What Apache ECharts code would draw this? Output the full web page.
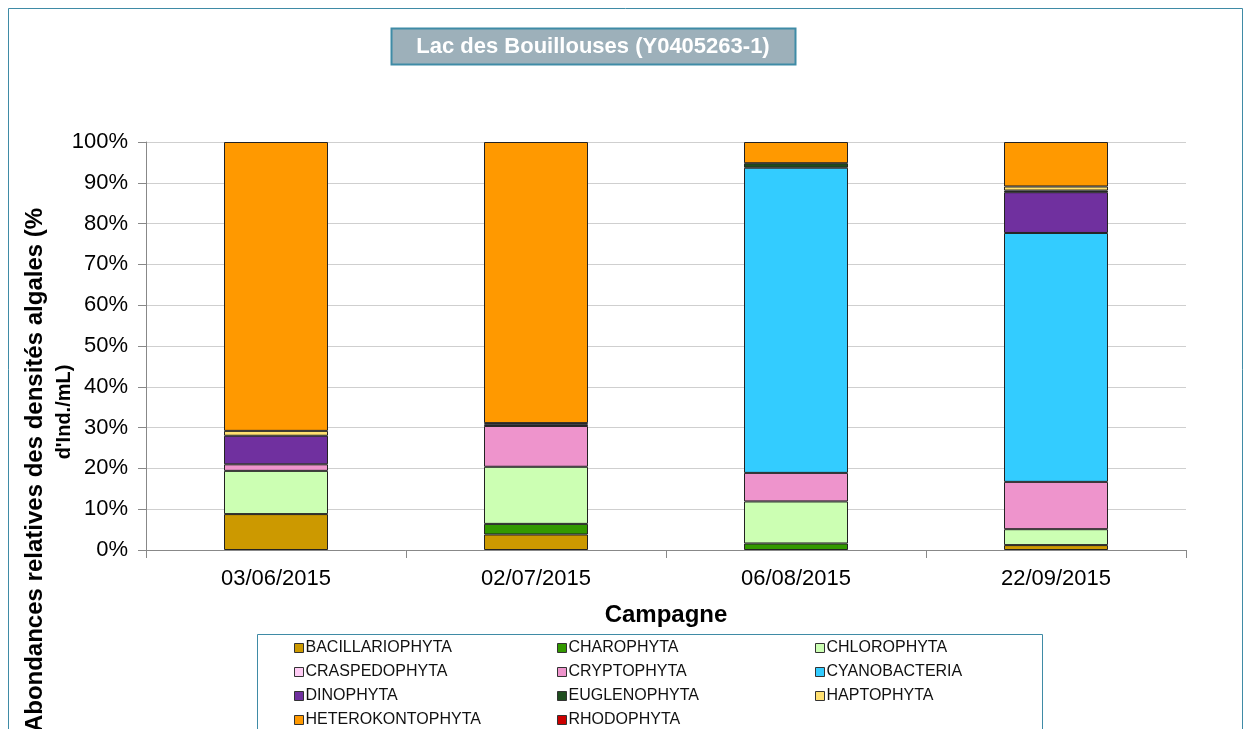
<!DOCTYPE html>
<html>
<head>
<meta charset="UTF-8">
<title>Lac des Bouillouses</title>
<script src="https://cdn.jsdelivr.net/npm/echarts@6/dist/echarts.min.js"></script>
<style>
  html, body { margin: 0; padding: 0; background: #fff; }
  #main { width: 1251px; height: 729px; }
</style>
</head>
<body>
<div id="main"></div>
<script>
// campagnes
var dates = ['03/06/2015', '02/07/2015', '06/08/2015', '22/09/2015'];

// abondances relatives (%) par embranchement, une valeur par campagne
var bacillariophyta  = [8.8, 3.8, 0, 1.2];
var charophyta       = [0, 2.6, 1.6, 0];
var chlorophyta      = [10.6, 14.0, 10.3, 3.9];
var craspedophyta    = [0, 0, 0, 0];
var cryptophyta      = [1.6, 10.0, 7.0, 11.6];
var cyanobacteria    = [0, 0, 74.8, 61.0];
var dinophyta        = [7.0, 0.4, 0, 10.0];
var euglenophyta     = [0, 0, 1.1, 0.4];
var haptophyta       = [1.2, 0.3, 0, 1.0];
var heterokontophyta = [70.8, 68.9, 5.2, 10.9];
var rhodophyta       = [0, 0, 0, 0];

var yTicks = [0, 10, 20, 30, 40, 50, 60, 70, 80, 90, 100];

var groups = [
    ['BACILLARIOPHYTA', bacillariophyta, '#CC9900'],
    ['CHAROPHYTA', charophyta, '#339900'],
    ['CHLOROPHYTA', chlorophyta, '#CCFFB3'],
    ['CRASPEDOPHYTA', craspedophyta, '#FFCCF5'],
    ['CRYPTOPHYTA', cryptophyta, '#EE94CC'],
    ['CYANOBACTERIA', cyanobacteria, '#33CCFF'],
    ['DINOPHYTA', dinophyta, '#70309F'],
    ['EUGLENOPHYTA', euglenophyta, '#1E4D1E'],
    ['HAPTOPHYTA', haptophyta, '#FFE070'],
    ['HETEROKONTOPHYTA', heterokontophyta, '#FF9900'],
    ['RHODOPHYTA', rhodophyta, '#CC0000']
];

var font = '"Liberation Sans", Arial, sans-serif';

var series = groups.map(function (g) {
    return {
        name: g[0],
        type: 'bar',
        stack: 'tot',
        barWidth: 104,
        data: g[1].map(function (v) { return v > 0 ? v : '-'; }),
        itemStyle: { color: g[2], borderColor: '#222', borderWidth: 1 },
        emphasis: { disabled: true }
    };
});

function legendCol(names, left) {
    return {
        orient: 'vertical',
        left: left,
        top: 640,
        height: 140,
        padding: 0,
        itemWidth: 9,
        itemHeight: 9,
        itemGap: 8,
        icon: 'rect',
        data: names.map(function (n) {
            return { name: n, itemStyle: { borderColor: '#333', borderWidth: 1 } };
        }),
        selectedMode: false,
        textStyle: { fontFamily: font, fontSize: 16, color: '#111', padding: [0, 0, 0, -3], lineHeight: 16 }
    };
}

var myChart = echarts.init(document.getElementById('main'));

var option = {
    animation: false,
    grid: { left: 146, right: 65, top: 142, bottom: 179 },
    legend: [
        legendCol(['BACILLARIOPHYTA', 'CRASPEDOPHYTA', 'DINOPHYTA', 'HETEROKONTOPHYTA'], 294),
        legendCol(['CHAROPHYTA', 'CRYPTOPHYTA', 'EUGLENOPHYTA', 'RHODOPHYTA'], 557),
        legendCol(['CHLOROPHYTA', 'CYANOBACTERIA', 'HAPTOPHYTA'], 815)
    ],
    xAxis: {
        type: 'category',
        data: dates,
        name: 'Campagne',
        nameLocation: 'middle',
        nameGap: 53,
        nameTextStyle: { fontFamily: font, fontSize: 24, fontWeight: 'bold', color: '#000' },
        axisLine: { lineStyle: { color: '#888', width: 1 } },
        axisTick: { show: true, length: 8, lineStyle: { color: '#888' } },
        axisLabel: { fontFamily: font, fontSize: 22, color: '#000', margin: 18 }
    },
    yAxis: {
        type: 'value',
        min: yTicks[0],
        max: yTicks[yTicks.length - 1],
        interval: 10,
        axisLine: { show: true, lineStyle: { color: '#888', width: 1 } },
        axisTick: { show: true, length: 8, lineStyle: { color: '#888' } },
        axisLabel: { fontFamily: font, fontSize: 22, color: '#000', margin: 18, formatter: '{value}%' },
        splitLine: { lineStyle: { color: '#CFCFCF', width: 1 } }
    },
    graphic: [
        {
            type: 'rect', silent: true, z: -1,
            shape: { x: 8.5, y: 8.5, width: 1234, height: 740 },
            style: { fill: null, stroke: '#3F8BA6', lineWidth: 1 }
        },
        {
            type: 'rect', silent: true,
            shape: { x: 391.5, y: 28.5, width: 404, height: 36 },
            style: { fill: '#9DB0BA', stroke: '#3F8BA6', lineWidth: 2 }
        },
        {
            type: 'text', silent: true,
            x: 593, y: 47,
            style: {
                text: 'Lac des Bouillouses (Y0405263-1)',
                align: 'center', verticalAlign: 'middle',
                fill: '#fff', font: 'bold 22px ' + font
            }
        },
        {
            type: 'rect', silent: true,
            shape: { x: 257.5, y: 634.5, width: 785, height: 110 },
            style: { fill: null, stroke: '#3F8BA6', lineWidth: 1 }
        },
        {
            type: 'text', silent: true,
            x: 35, y: 470, rotation: Math.PI / 2,
            style: {
                text: 'Abondances relatives des densités algales (%',
                align: 'center', verticalAlign: 'middle',
                fill: '#000', font: 'bold 24px ' + font
            }
        },
        {
            type: 'text', silent: true,
            x: 64, y: 412, rotation: Math.PI / 2,
            style: {
                text: "d'Ind./mL)",
                align: 'center', verticalAlign: 'middle',
                fill: '#000', font: 'bold 20px ' + font
            }
        }
    ],
    series: series
};

myChart.setOption(option);
</script>
</body>
</html>
